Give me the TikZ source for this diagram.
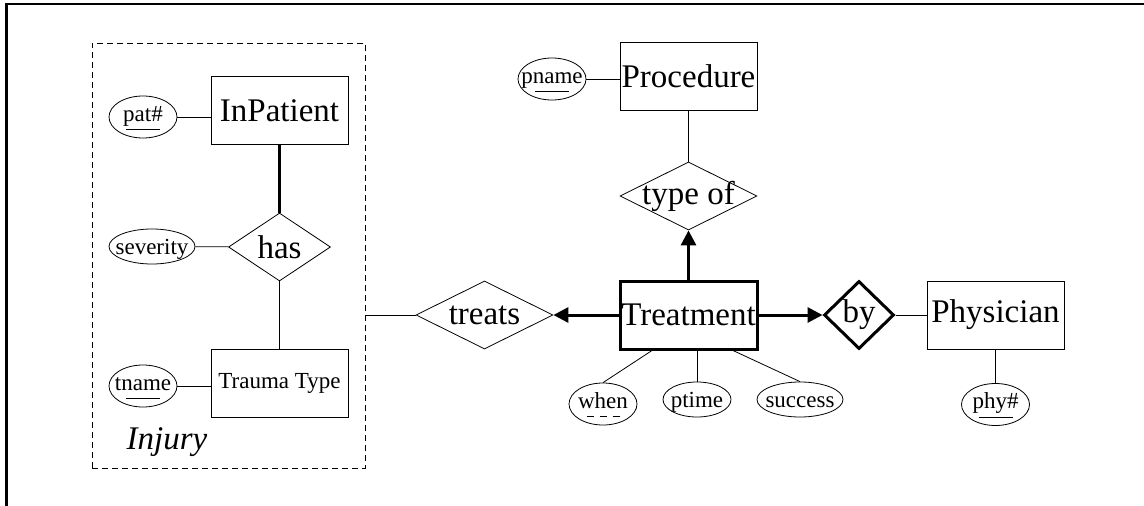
\documentclass[tikz,border=0pt]{standalone}
\usepackage{fontspec}
\setmainfont{Liberation Serif}
\usepackage{tikz}
\usetikzlibrary{arrows.meta,shapes.geometric}
\newcommand{\bigtext}{\fontsize{33}{36}\selectfont}
\newcommand{\smalltext}{\fontsize{23}{26}\selectfont}
% key underline and partial key (dashed) underline
\newcommand{\ukey}[1]{\setbox0=\hbox{#1}\rlap{\hbox to\wd0{\hss\rule[-9pt]{34pt}{0.8pt}\hss}}\box0}
\newcommand{\dkey}[1]{\setbox0=\hbox{#1}\rlap{\hbox to\wd0{\hss\rule[-9pt]{7pt}{0.8pt}\hspace{6pt}\rule[-9pt]{7pt}{0.8pt}\hspace{6pt}\rule[-9pt]{7pt}{0.8pt}\hss}}\box0}
\tikzstyle{entity} = [draw, rectangle, line width=0.8pt, minimum width=137pt, minimum height=68pt, inner sep=0pt, font=\bigtext]
\tikzstyle{relation} = [draw, diamond, aspect=2, line width=0.8pt, minimum width=137pt, minimum height=68pt, inner sep=-5pt, font=\bigtext]
\tikzstyle{attr} = [draw, ellipse, line width=0.8pt, minimum width=68pt, minimum height=35pt, inner xsep=-7pt, inner ysep=0pt, text height=15pt, text depth=0pt, font=\smalltext]
\tikzstyle{keyattr} = [attr, minimum height=42pt, text depth=7pt]
\tikzstyle{group} = [draw, rectangle, line width=0.8pt, dash pattern=on 6pt off 4pt, inner sep=0pt]
\tikzstyle{link} = [line width=0.8pt]
\tikzstyle{total} = [line width=3pt]
\tikzstyle{arrow} = [line width=3pt, -{Triangle[length=15pt,width=15pt]}]

\begin{document}
\begin{tikzpicture}[x=1pt, y=-1pt]
\useasboundingbox (0,0) rectangle (1144,506);
% frame
\draw[line width=2.2pt] (6.5,506) -- (6.5,4) -- (1144,4);
% Injury aggregation
\node[group, minimum width=273pt, minimum height=425pt] (injury) at (228.5,255.5) {};
\node[font=\bigtext\itshape] (injlabel) at (167,442) {Injury};
\node[entity] (inpat) at (279.5,110.5) {InPatient};
\node[keyattr] (pat) at (143,117) {\ukey{pat\#}};
\node[relation, minimum width=102pt] (has) at (279.5,247) {has};
\node[attr, minimum width=86pt] (sev) at (152,246.5) {severity};
\node[entity, font=\smalltext] (trauma) at (279.5,383) {Trauma Type};
\node[keyattr] (tname) at (143,386) {\ukey{tname}};
% Treatment and its relationships
\node[relation] (treats) at (484.5,315) {treats};
\node[entity, line width=3pt] (treatment) at (688.5,315) {Treatment};
\node[relation] (typeof) at (688.5,196) {type of};
\node[entity] (procedure) at (688.5,76.5) {Procedure};
\node[keyattr] (pname) at (552,79) {\ukey{pname}};
\node[relation, minimum width=70pt, line width=3pt] (by) at (859,315) {by};
\node[entity] (physician) at (995.5,315) {Physician};
\node[keyattr] (phy) at (995.5,404.5) {\ukey{phy\#}};
\node[keyattr] (when) at (603,404) {\dkey{when}};
\node[attr] (ptime) at (697,399.5) {ptime};
\node[attr, minimum width=86pt] (success) at (800,399.5) {success};
% connectors
\draw[link] (pat.east) -- (pat.east -| inpat.west);
\draw[total] (inpat) -- (has);
\draw[link] (sev) -- (has);
\draw[link] (has) -- (trauma);
\draw[link] (tname.east) -- (tname.east -| trauma.west);
\draw[link] (treats.west -| injury.east) -- (treats);
\draw[arrow] (treatment) -- (treats);
\draw[arrow] (treatment) -- (typeof);
\draw[arrow] (treatment) -- (by);
\draw[link] (procedure) -- (typeof);
\draw[link] (pname.east) -- (pname.east -| procedure.west);
\draw[link] (by) -- (physician);
\draw[link] (physician) -- (phy);
\draw[link] ([xshift=-36.5pt]treatment.south) -- (when.north);
\draw[link] (ptime.north |- treatment.south) -- (ptime.north);
\draw[link] ([xshift=44.5pt]treatment.south) -- (success.north);
\end{tikzpicture}
\end{document}
